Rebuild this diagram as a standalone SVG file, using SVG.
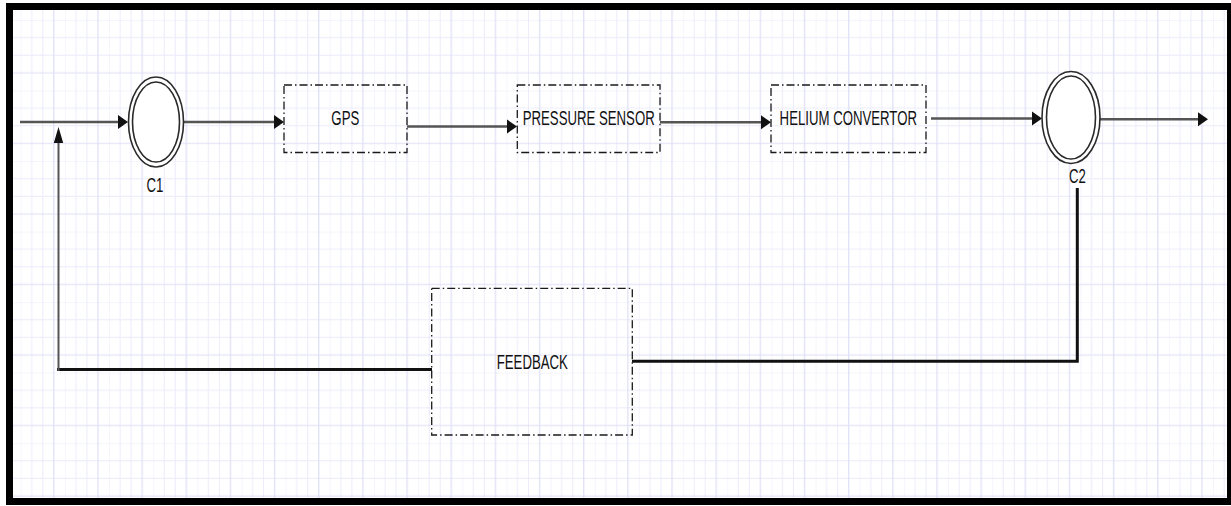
<svg xmlns="http://www.w3.org/2000/svg" width="1231" height="506" viewBox="0 0 1231 506">
<style>
.box{fill:none;stroke:#1a1a1a;stroke-width:1.3;stroke-dasharray:8 3 1.5 3}
.ring{fill:#fff;stroke:#2a2a2a;stroke-width:1.6}
.lbl{font-family:"Liberation Sans",Arial,sans-serif;font-size:13.2px;fill:#111;text-anchor:middle}
.gl{stroke:#555;stroke-width:2.5;fill:none}
.bl{stroke:#111;stroke-width:3;fill:none}
</style>
<defs>
<pattern id="grid" patternUnits="userSpaceOnUse" x="20.7" y="20" width="44.16" height="70.52">
<g stroke="#ebebfb" stroke-width="1">
<line x1="0" y1="0" x2="0" y2="70.52"/>
<line x1="11.04" y1="0" x2="11.04" y2="70.52"/>
<line x1="22.08" y1="0" x2="22.08" y2="70.52"/>
<line x1="0" y1="0" x2="44.16" y2="0"/>
<line x1="0" y1="17.63" x2="44.16" y2="17.63"/>
<line x1="0" y1="35.26" x2="44.16" y2="35.26"/>
</g>
<g stroke="#dedef6" stroke-width="1.2">
<line x1="33.12" y1="0" x2="33.12" y2="70.52"/>
<line x1="0" y1="52.89" x2="44.16" y2="52.89"/>
</g>
</pattern>
<marker id="ah" markerUnits="userSpaceOnUse" orient="auto" refX="0" refY="0" markerWidth="12" markerHeight="16" viewBox="0 -8 12 16" overflow="visible">
<path d="M0,-7 L10,0 L0,7 z" fill="#111"/>
</marker>
<marker id="av" markerUnits="userSpaceOnUse" orient="auto" refX="0" refY="0" markerWidth="18" markerHeight="12" viewBox="0 -6 18 12" overflow="visible">
<path d="M0,-4.7 L16,0 L0,4.7 z" fill="#111"/>
</marker>
</defs>
<rect x="0" y="0" width="1231" height="506" fill="#fff"/>
<rect x="13" y="10" width="1214" height="488" fill="url(#grid)"/>
<rect x="9.5" y="6.5" width="1221" height="495" fill="none" stroke="#000" stroke-width="7"/>

<g id="connectors">
<line class="gl" x1="20" y1="122" x2="118" y2="122" marker-end="url(#ah)"/>
<line class="gl" x1="184" y1="122" x2="274" y2="122" marker-end="url(#ah)"/>
<line class="gl" x1="407" y1="126.5" x2="507" y2="126.5" marker-end="url(#ah)"/>
<line class="gl" x1="660" y1="122.3" x2="761" y2="122.3" marker-end="url(#ah)"/>
<line class="gl" x1="931" y1="118.5" x2="1032" y2="118.5" marker-end="url(#ah)"/>
<line class="gl" x1="1100" y1="119.3" x2="1198" y2="119.3" marker-end="url(#ah)"/>
<polyline class="bl" points="1077.3,188 1077.3,361.3 632,361.3"/>
<line class="bl" x1="432" y1="369.5" x2="57" y2="369.5"/>
<line stroke="#555" stroke-width="2" x1="58.5" y1="371" x2="58.5" y2="143" marker-end="url(#av)"/>
</g>

<g id="C1">
<ellipse class="ring" cx="156" cy="122" rx="27.5" ry="45"/>
<ellipse class="ring" cx="156" cy="122" rx="23.5" ry="40"/>
<text class="lbl" transform="translate(155,191.5) scale(1,1.6)">C1</text>
</g>

<g id="GPS">
<rect class="box" x="284" y="85" width="123" height="67.5"/>
<text class="lbl" transform="translate(345.3,125) scale(1,1.6)">GPS</text>
</g>

<g id="PRESSURE_SENSOR">
<rect class="box" x="517.3" y="85" width="142.7" height="67.5"/>
<text class="lbl" transform="translate(588.7,125) scale(1,1.6)">PRESSURE SENSOR</text>
</g>

<g id="HELIUM_CONVERTOR">
<rect class="box" x="771" y="85" width="155" height="67.5"/>
<text class="lbl" transform="translate(848.3,125) scale(1,1.6)">HELIUM CONVERTOR</text>
</g>

<g id="C2">
<ellipse class="ring" cx="1071" cy="117.5" rx="29" ry="46"/>
<ellipse class="ring" cx="1071" cy="117.5" rx="24.5" ry="41.5"/>
<text class="lbl" transform="translate(1077.5,183.3) scale(1,1.6)">C2</text>
</g>

<g id="FEEDBACK">
<rect class="box" x="431.7" y="288.3" width="200.6" height="146.7"/>
<text class="lbl" transform="translate(532.3,369) scale(1,1.6)">FEEDBACK</text>
</g>
</svg>
